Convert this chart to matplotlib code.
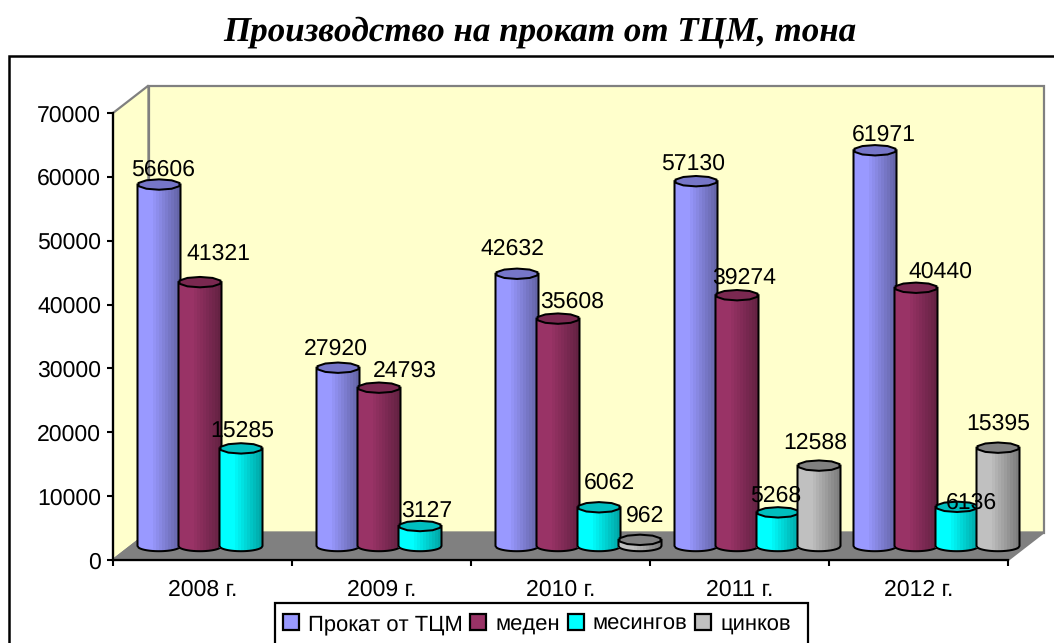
import numpy as np
import matplotlib
matplotlib.use("Agg")
import matplotlib.pyplot as plt
from matplotlib.patches import Polygon, Rectangle, Patch

W, H = 1054, 643
title = "Производство на прокат от ТЦМ, тона"
categories = ["2008 г.", "2009 г.", "2010 г.", "2011 г.", "2012 г."]
series_names = ["Прокат от ТЦМ", "меден", "месингов", "цинков"]
blue_values = [56606, 27920, 42632, 57130, 61971]
red_values = [41321, 24793, 35608, 39274, 40440]
cyan_values = [15285, 3127, 6062, 5268, 6136]
grey_values = [None, None, 962, 12588, 15395]
yticks = [0, 10000, 20000, 30000, 40000, 50000, 60000, 70000]

series = [blue_values, red_values, cyan_values, grey_values]
colors = ["#9999FF", "#993366", "#00FFFF", "#C0C0C0"]
top_colors = ["#7676C8", "#7A2850", "#00BEBE", "#808080"]
# label offsets from the bar top, in pixels
offsets = [
    [(4, 14.5), (-2, 18.7), (-5, 24.8), (-3, 17.2), (9, 15.3)],
    [(18, 28), (26, 16.7), (14, 16.6), (7, 17.2), (24, 15.8)],
    [(1, 17.4), (7, 15), (10, 24.3), (-2, 16.4), (14, 3.8)],
    [None, None, (5, 24), (-4, 22.6), (0, 23.7)],
]

plt.rcParams["font.family"] = ["Liberation Sans", "DejaVu Sans"]
plt.rcParams["text.hinting"] = "no_hinting"
plt.rcParams["text.hinting_factor"] = 1
fig = plt.figure(figsize=(W / 100, H / 100), dpi=100, facecolor="white")

L, R, T, B = 113, 1008, 113, 560
ax = fig.add_axes([L / W, 1 - B / H, (R - L) / W, (B - T) / H])
ax.set_xlim(0, len(categories))
ax.set_ylim(0, 70000)
ax.patch.set_alpha(0)

px_x = len(categories) / (R - L)
px_y = 70000 / (B - T)
dep_x, dep_y = 35.5 * px_x, 27.5 * px_y

# outer frame (runs past the right and bottom picture edges) and title
fig.add_artist(Rectangle((9 / W, -0.02), 1.02, 1.02 - 55.5 / H, transform=fig.transFigure,
                         fc="white", ec="black", lw=1.8, zorder=-5))
fig.text(540 / W, 1 - 32 / H, title, ha="center", va="center", fontsize=25,
         family="Liberation Serif", style="italic", weight="bold")

# walls and floor
xmax = len(categories)
wall = dict(clip_on=False, zorder=1, lw=1.6, joinstyle="miter")
ax.add_patch(Polygon([(0, 0), (dep_x, dep_y), (dep_x, 70000 + dep_y), (0, 70000)],
                     fc="#FFFFCC", ec="#808080", **wall))
ax.add_patch(Polygon([(dep_x, dep_y), (xmax + dep_x, dep_y), (xmax + dep_x, 70000 + dep_y), (dep_x, 70000 + dep_y)],
                     fc="#FFFFCC", ec="#808080", **wall))
ax.add_patch(Polygon([(0, 0), (xmax, 0), (xmax + dep_x, dep_y), (dep_x, dep_y)],
                     fc="#808080", ec="#808080", **wall))

# cylinders
n_strip = 14
bar_w = 43 * px_x
semi_w = bar_w / 2
semi_h = 5.2 * px_y
base = 14 * px_y
shade = np.concatenate([np.full(4, 1.0), np.linspace(1.0, 0.66, n_strip - 4)])
theta = np.linspace(0, 2 * np.pi, 11)[:-1] + np.pi / 10
z = 3
for j, vals in enumerate(series):
    rgb = np.array(matplotlib.colors.to_rgb(colors[j]))
    for i, v in enumerate(vals):
        if v is None:
            continue
        cx = i + (46 + 41 * j) * px_x
        edges = np.linspace(-semi_w, semi_w, n_strip + 1)
        mids = (edges[:-1] + edges[1:]) / 2
        sag = semi_h * np.sqrt(1 - (mids / semi_w) ** 2)
        ax.bar(cx + mids, v + sag, width=(edges[1] - edges[0]) * 1.03, bottom=base - sag,
               color=[rgb * s for s in shade], lw=0, zorder=z, clip_on=False)
        xx = np.linspace(-semi_w, semi_w, 41)
        low = base - semi_h * np.sqrt(np.clip(1 - (xx / semi_w) ** 2, 0, 1))
        ax.plot(np.r_[cx - semi_w, cx + xx, cx + semi_w], np.r_[base + v, low, base + v],
                color="black", lw=1.45, zorder=z + 0.1, clip_on=False)
        ax.fill(cx + semi_w * np.cos(theta), base + v + semi_h * np.sin(theta),
                fc=top_colors[j], ec="black", lw=1.45, zorder=z + 0.2, clip_on=False)
        z += 1

# value labels
for j, vals in enumerate(series):
    for i, v in enumerate(vals):
        if v is None:
            continue
        cx = i + (46 + 41 * j) * px_x
        dx, dy = offsets[j][i]
        ax.annotate(str(v), (cx, base + v), xytext=(dx * 0.72, dy * 0.72), textcoords="offset points",
                    ha="center", va="center", fontsize=16.3, color="black", zorder=100, annotation_clip=False)

# axes
for s in ["top", "right"]:
    ax.spines[s].set_visible(False)
for s in ["left", "bottom"]:
    ax.spines[s].set_linewidth(1.6)
    ax.spines[s].set_zorder(2)
ax.set_yticks(yticks)
ax.set_yticklabels([str(t) for t in yticks], fontsize=16.3)
ax.set_xticks(np.arange(len(categories) + 1))
ax.set_xticklabels([])
ax.set_xticks(np.arange(len(categories)) + 0.5, categories, minor=True, fontsize=16.3)
ax.tick_params(axis="x", which="minor", length=0, pad=14)
ax.tick_params(axis="both", which="major", length=4.5, width=1.5)
ax.tick_params(axis="y", pad=4)

# legend box runs past the bottom edge of the picture
fig.add_artist(Rectangle((275 / W, -0.02), (808 - 275) / W, 1.02 - 603 / H, transform=fig.transFigure,
                         fc="white", ec="black", lw=1.6, zorder=5))
handles = [Patch(fc=c, ec="black", lw=1.6) for c in colors]
leg = fig.legend(handles, series_names, loc="center left", bbox_to_anchor=(283 / W, 1 - 624.5 / H),
                 ncol=4, fontsize=16, frameon=False,
                 handlelength=0.72, handleheight=0.72, handletextpad=0.4, columnspacing=0.35,
                 borderpad=0, borderaxespad=0)
leg.set_zorder(6)

fig.savefig("out.png", dpi=100)
